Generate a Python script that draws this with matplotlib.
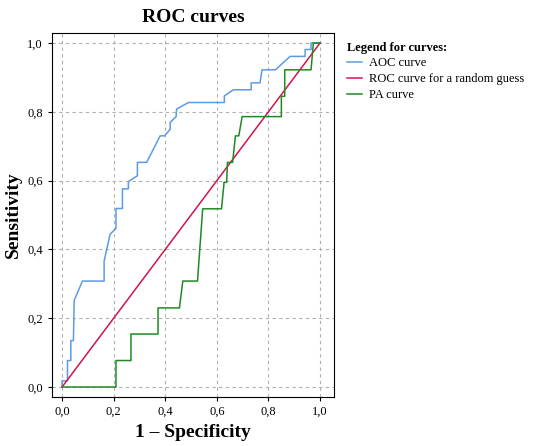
import matplotlib
matplotlib.use("Agg")
import matplotlib.pyplot as plt

plt.rcParams['font.family'] = ['Liberation Serif', 'DejaVu Serif']

aoc_x = [0, 0, 0.021, 0.021, 0.034, 0.034, 0.044, 0.047, 0.079, 0.163, 0.163, 0.186, 0.209, 0.209,
         0.234, 0.234, 0.257, 0.257, 0.292, 0.292, 0.328, 0.380, 0.397, 0.419, 0.419, 0.442, 0.444,
         0.490, 0.629, 0.629, 0.664, 0.733, 0.733, 0.767, 0.775, 0.827, 0.884, 0.942, 0.942, 0.965,
         0.965, 1.0]
aoc_y = [0, 0.018, 0.018, 0.077, 0.077, 0.135, 0.135, 0.252, 0.308, 0.308, 0.366, 0.444, 0.461, 0.519,
         0.519, 0.576, 0.576, 0.597, 0.614, 0.653, 0.653, 0.730, 0.730, 0.749, 0.769, 0.786, 0.808,
         0.827, 0.827, 0.846, 0.864, 0.864, 0.884, 0.884, 0.922, 0.922, 0.961, 0.961, 0.981, 0.981,
         1.0, 1.0]
rand_x = [0, 1]
rand_y = [0, 1]
pa_x = [0, 0.209, 0.209, 0.267, 0.267, 0.372, 0.372, 0.455, 0.468, 0.525, 0.545, 0.618, 0.628, 0.638,
        0.641, 0.661, 0.672, 0.685, 0.698, 0.850, 0.850, 0.863, 0.863, 0.965, 0.974, 1.0]
pa_y = [0, 0, 0.077, 0.077, 0.154, 0.154, 0.230, 0.230, 0.308, 0.308, 0.518, 0.518, 0.595, 0.595,
        0.653, 0.653, 0.730, 0.730, 0.786, 0.786, 0.845, 0.845, 0.922, 0.922, 1.0, 1.0]
ticks = [0, 0.2, 0.4, 0.6, 0.8, 1.0]
tick_labels = ["0,0", "0,2", "0,4", "0,6", "0,8", "1,0"]

fig = plt.figure(figsize=(5.54, 4.46), dpi=100)
ax = fig.add_axes([52/554, 49/446, 282/554, 364/446])
ax.plot(aoc_x, aoc_y, color='#5b9be6', lw=1.1, label='AOC curve')
ax.plot(rand_x, rand_y, color='#d8134a', lw=1.1, label='ROC curve for a random guess')
ax.plot(pa_x, pa_y, color='#1f8a1f', lw=1.1, label='PA curve')
ax.set_xlim(-0.039, 1.054)
ax.set_ylim(-0.029, 1.029)
ax.set_xticks(ticks)
ax.set_xticklabels(tick_labels, fontsize=9)
ax.set_yticks(ticks)
ax.set_yticklabels(tick_labels, fontsize=9)
ax.grid(True, color='#b0b0b0', ls=(0, (3, 3)), lw=0.8)
ax.tick_params(length=3)
ax.set_xlabel('1 – Specificity', fontsize=14, fontweight='bold')
ax.set_ylabel('Sensitivity', fontsize=14, fontweight='bold')
ax.set_title('ROC curves', fontsize=14, fontweight='bold', pad=8)
leg = ax.legend(loc='upper left', bbox_to_anchor=(1.03, 0.99), frameon=False, fontsize=9,
                title='Legend for curves:', handlelength=1.2, handletextpad=0.5,
                labelspacing=0.3, borderaxespad=0)
leg.get_title().set_fontweight('bold')
leg.get_title().set_fontsize(9)
leg._legend_box.align = 'left'
fig.savefig('out.png', dpi=100)
